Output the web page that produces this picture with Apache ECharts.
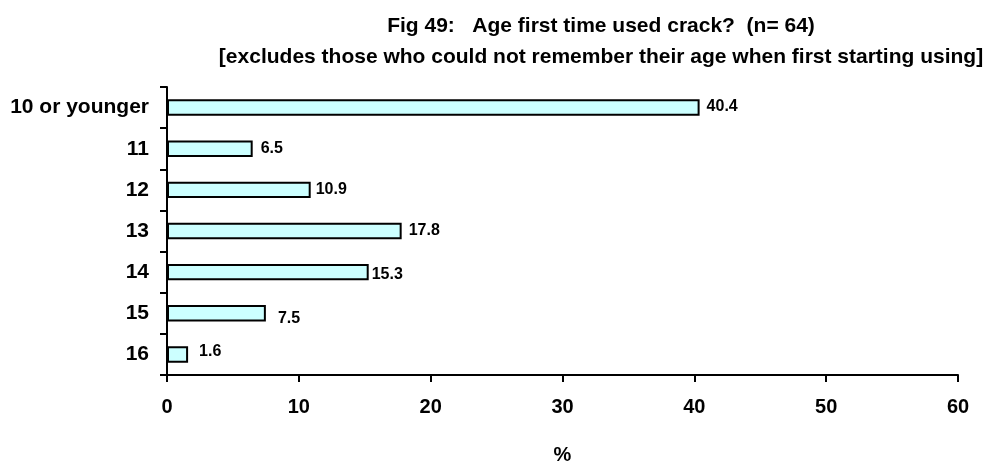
<!DOCTYPE html>
<html>
<head>
<meta charset="utf-8">
<script src="https://cdn.jsdelivr.net/npm/echarts@6/dist/echarts.min.js"></script>
<style>
  html, body { margin: 0; padding: 0; background: #fff; }
  #chart { width: 987px; height: 470px; }
</style>
</head>
<body>
<div id="chart"></div>
<script>
// 数据
const ages = ['10 or younger', '11', '12', '13', '14', '15', '16'];
const percents = [40.4, 6.5, 10.9, 17.8, 15.3, 7.5, 1.6];
const xTicks = [0, 10, 20, 30, 40, 50, 60];

// label nudges, as in the original figure (px)
const labelShift = [[2, -1], [3, 0], [0, 0], [2, 0], [-2, 2], [7, 5], [6, -3]];

const FONT = '"Liberation Sans", Arial, sans-serif';

const chart = echarts.init(document.getElementById('chart'));

const option = {
    backgroundColor: '#fff',
    animation: false,
    title: {
        text: 'Fig 49:   Age first time used crack?  (n= 64)\n[excludes those who could not remember their age when first starting using]',
        left: 596,
        top: 6,
        textAlign: 'center',
        textStyle: {
            fontFamily: FONT,
            fontWeight: 'bold',
            fontSize: 21,
            lineHeight: 31,
            color: '#000'
        }
    },
    grid: {
        left: 167,
        right: 29,
        top: 87,
        bottom: 84
    },
    xAxis: {
        type: 'value',
        min: xTicks[0],
        max: xTicks[xTicks.length - 1],
        interval: 10,
        name: '%',
        nameLocation: 'middle',
        nameGap: 70,
        nameTextStyle: { fontFamily: FONT, fontWeight: 'bold', fontSize: 20, color: '#000' },
        axisLine: { show: true, lineStyle: { color: '#000', width: 2 } },
        axisTick: { show: true, length: 7, lineStyle: { color: '#000', width: 2 } },
        splitLine: { show: false },
        axisLabel: {
            margin: 22,
            fontFamily: FONT,
            fontWeight: 'bold',
            fontSize: 20,
            color: '#000'
        }
    },
    yAxis: {
        type: 'category',
        data: ages,
        inverse: true,
        axisLine: { show: true, lineStyle: { color: '#000', width: 2 } },
        axisTick: { show: true, length: 7, lineStyle: { color: '#000', width: 2 } },
        axisLabel: {
            margin: 18,
            fontFamily: FONT,
            fontWeight: 'bold',
            fontSize: 21,
            color: '#000'
        }
    },
    series: [{
        type: 'bar',
        barWidth: '40%',
        data: percents.map(function (v, i) {
            return {
                value: v,
                label: { offset: labelShift[i] }
            };
        }),
        itemStyle: {
            color: '#ccffff',
            borderColor: '#000',
            borderWidth: 2
        },
        label: {
            show: true,
            position: 'right',
            distance: 5,
            fontFamily: FONT,
            fontWeight: 'bold',
            fontSize: 16,
            color: '#000'
        }
    }]
};

chart.setOption(option);
</script>
</body>
</html>
